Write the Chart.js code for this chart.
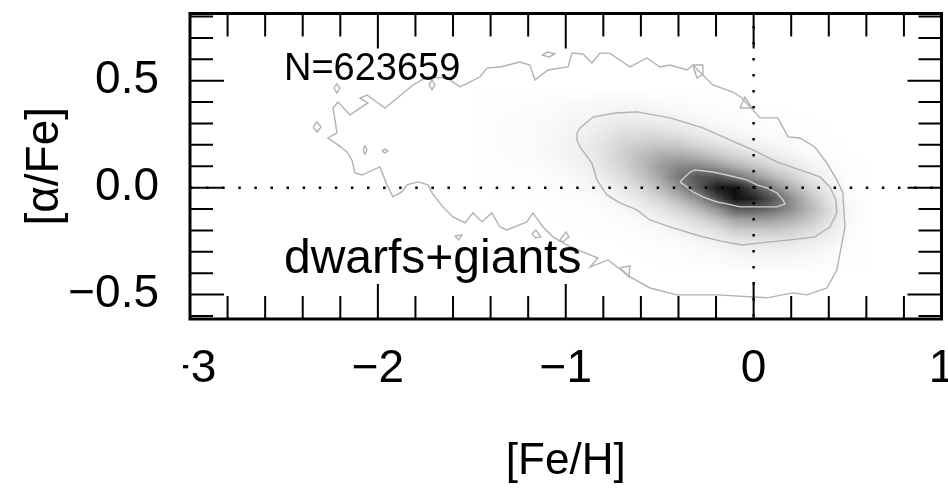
<!DOCTYPE html>
<html>
<head>
<meta charset="utf-8">
<script src="https://cdn.jsdelivr.net/npm/chart.js@4.4.1/dist/chart.umd.min.js"></script>
<style>
  html, body { margin: 0; padding: 0; background: #ffffff; }
  canvas { display: block; }
</style>
</head>
<body>
<canvas id="chart" width="948" height="488"></canvas>
<script>
// ---- axes -------------------------------------------------------------
const xTickValues = [-3, -2, -1, 0, 1];
const xTickLabels = ['\u22123', '\u22122', '\u22121', '0', '1'];
const yTickValues = [-0.5, 0, 0.5];
const yTickLabels = ['\u22120.5', '0.0', '0.5'];
const xRange = [-3, 1];
const yRange = [-0.614, 0.814];

// ---- star-density map: [Fe/H] column centres, [alpha/Fe] row centres --
const feGrid = [-1.5, -1.4, -1.3, -1.2, -1.1, -1.0, -0.9, -0.8, -0.7, -0.6, -0.5, -0.4,
                -0.3, -0.2, -0.1, 0.0, 0.1, 0.2, 0.3, 0.4, 0.5, 0.6];
const alphaGrid = [0.45, 0.40, 0.35, 0.30, 0.25, 0.20, 0.15, 0.10, 0.05, 0.00,
                   -0.05, -0.10, -0.15, -0.20, -0.25, -0.30, -0.35, -0.40];
// darkness 0 (white) .. 255 (black), one row per alphaGrid entry
const density = [
  [0,0,0, 0,0,0,0,0,0,0,0,0,0,0,0,0,0,0,0,0,0, 0],
  [0,1,1, 2,3,4,5,6,7,6,4,3,2,1,1,0,0,0,0,0,0, 0],
  [0,1,2, 3,4,6,8,10,13,13,10,7,5,3,2,1,1,0,0,0,0, 0],
  [0,2,3, 4,5,8,12,17,22,23,20,16,11,6,4,2,2,1,0,0,0, 0],
  [0,2,3, 4,6,10,15,23,33,36,36,30,22,15,10,6,4,2,1,0,0, 0],
  [0,2,3, 4,7,11,18,28,43,52,58,53,42,30,21,14,9,5,2,1,0, 0],
  [0,2,2, 3,6,10,16,29,48,65,82,85,75,58,42,30,20,12,5,2,0, 0],
  [0,1,2, 2,5,8,14,25,43,67,97,120,123,105,80,60,40,25,12,4,1, 0],
  [0,1,1, 1,3,5,10,18,33,56,90,135,169,175,142,107,73,47,23,9,1, 0],
  [0,0,1, 1,2,3,6,12,22,40,67,108,161,230,240,176,124,78,41,16,3, 0],
  [0,0,0, 0,1,2,3,6,13,25,44,72,112,175,240,220,167,110,61,26,5, 0],
  [0,0,0, 0,0,1,1,3,7,14,26,43,67,105,158,163,143,110,72,34,7, 0],
  [0,0,0, 0,0,0,1,2,3,7,13,23,38,58,90,96,91,78,54,29,7, 0],
  [0,0,0, 0,0,0,0,1,1,3,6,12,20,30,48,52,52,47,34,20,5, 0],
  [0,0,0, 0,0,0,0,0,0,1,3,5,9,15,24,26,27,25,18,12,3, 0],
  [0,0,0, 0,0,0,0,0,0,0,1,2,4,6,11,12,12,12,9,6,1, 0],
  [0,0,0, 0,0,0,0,0,0,0,0,1,2,3,5,5,5,5,4,3,1, 0],
  [0,0,0, 0,0,0,0,0,0,0,0,0,0,0,0,0,0,0,0,0,0, 0]
];

// ---- density contours ([Fe/H], [alpha/Fe]) ----------------------------
const innerContour = [
  [-0.392,0.027],[-0.339,0.073],[-0.312,0.083],[-0.217,0.073],[-0.142,0.059],
  [-0.036,0.036],[0.018,0.013],[0.071,-0.001],[0.124,-0.025],[0.156,-0.057],
  [0.167,-0.076],[0.124,-0.090],[0.050,-0.090],[-0.073,-0.090],[-0.142,-0.076],
  [-0.195,-0.067],[-0.270,-0.043],[-0.323,-0.020],[-0.355,0.003],[-0.392,0.027]
];
const middleContour = [
  [-0.940,0.256],[-0.924,0.279],[-0.855,0.330],[-0.738,0.349],[-0.621,0.354],
  [-0.445,0.326],[-0.270,0.279],[-0.126,0.223],[-0.004,0.176],[0.124,0.120],
  [0.246,0.083],[0.353,0.050],[0.406,0.003],[0.438,-0.057],[0.443,-0.118],
  [0.406,-0.184],[0.326,-0.230],[0.193,-0.244],[0.034,-0.258],[-0.062,-0.268],
  [-0.179,-0.249],[-0.286,-0.226],[-0.430,-0.188],[-0.552,-0.151],[-0.621,-0.104],
  [-0.712,-0.071],[-0.781,-0.034],[-0.834,0.036],[-0.861,0.115],[-0.924,0.190],
  [-0.940,0.223],[-0.940,0.256]
];
const outerContour = [
  [-2.138,0.129],[-2.164,0.167],[-2.212,0.200],[-2.266,0.232],[-2.218,0.256],
  [-2.228,0.316],[-2.239,0.372],[-2.212,0.400],[-2.148,0.340],[-2.053,0.396],
  [-2.095,0.419],[-2.058,0.433],[-1.962,0.372],[-1.813,0.480],[-1.739,0.517],
  [-1.632,0.513],[-1.563,0.471],[-1.457,0.517],[-1.419,0.559],[-1.350,0.564],
  [-1.244,0.587],[-1.191,0.573],[-1.164,0.503],[-1.095,0.550],[-0.988,0.564],
  [-0.967,0.629],[-0.908,0.625],[-0.861,0.583],[-0.818,0.629],[-0.765,0.629],
  [-0.658,0.564],[-0.568,0.606],[-0.499,0.564],[-0.445,0.573],[-0.355,0.550],
  [-0.323,0.573],[-0.270,0.527],[-0.217,0.480],[-0.110,0.447],[-0.062,0.419],
  [-0.004,0.363],[0.034,0.326],[0.129,0.326],[0.183,0.237],[0.246,0.232],
  [0.326,0.190],[0.390,0.115],[0.443,0.036],[0.475,-0.025],[0.486,-0.184],
  [0.443,-0.385],[0.390,-0.469],[0.284,-0.501],[0.209,-0.492],[0.071,-0.515],
  [-0.195,-0.501],[-0.408,-0.501],[-0.552,-0.469],[-0.658,-0.417],[-0.775,-0.338],
  [-0.871,-0.371],[-0.829,-0.329],[-0.962,-0.282],[-1.015,-0.258],[-1.068,-0.230],
  [-1.121,-0.184],[-1.175,-0.118],[-1.207,-0.160],[-1.313,-0.198],[-1.350,-0.184],
  [-1.393,-0.118],[-1.446,-0.160],[-1.494,-0.118],[-1.536,-0.165],[-1.600,-0.137],
  [-1.654,-0.090],[-1.712,-0.025],[-1.733,0.013],[-1.787,0.027],[-1.845,0.013],
  [-1.872,-0.020],[-1.920,-0.043],[-1.952,0.013],[-1.989,0.097],[-2.085,0.059],
  [-2.122,0.069],[-2.138,0.129]
];
// small detached loops of the outer contour level
const outerIslands = [
  [[-2.345,0.284],[-2.324,0.307],[-2.303,0.284],[-2.324,0.260],[-2.345,0.284]],
  [[-2.234,0.466],[-2.218,0.485],[-2.202,0.466],[-2.218,0.443],[-2.234,0.466]],
  [[-1.728,0.480],[-1.712,0.503],[-1.696,0.480],[-1.712,0.457],[-1.728,0.480]],
  [[-1.127,0.620],[-1.095,0.634],[-1.058,0.625],[-1.089,0.611],[-1.127,0.620]],
  [[-0.323,0.573],[-0.270,0.573],[-0.270,0.527],[-0.302,0.513],[-0.323,0.573]],
  [[-0.073,0.372],[-0.046,0.424],[-0.009,0.372],[-0.073,0.372]],
  [[-2.079,0.176],[-2.069,0.195],[-2.058,0.176],[-2.069,0.157],[-2.079,0.176]],
  [[-1.978,0.171],[-1.962,0.181],[-1.946,0.171],[-1.962,0.162],[-1.978,0.171]],
  [[-1.590,-0.226],[-1.553,-0.221],[-1.569,-0.244],[-1.590,-0.226]],
  [[-1.180,-0.216],[-1.159,-0.198],[-1.132,-0.230],[-1.159,-0.235],[-1.180,-0.216]],
  [[-1.031,-0.244],[-0.999,-0.207],[-0.983,-0.230],[-1.015,-0.254],[-1.031,-0.244]],
  [[-0.712,-0.375],[-0.658,-0.366],[-0.664,-0.417],[-0.712,-0.375]]
];

const sampleSize = 623659;
const panelLabel = 'dwarfs+giants';

// ---- styling ----------------------------------------------------------
const FONT = "'Liberation Sans', Arial, Helvetica, sans-serif";
const toXY = pts => pts.map(p => ({ x: p[0], y: p[1] }));

function contourSet(pts, color) {
  return {
    data: toXY(pts), showLine: true, borderColor: color, borderWidth: 1.4,
    pointRadius: 0, fill: false, tension: 0
  };
}

const datasets = [
  { // [alpha/Fe] = 0 reference
    data: [{ x: xRange[0], y: 0 }, { x: xRange[1], y: 0 }],
    showLine: true, borderColor: '#000', borderWidth: 2.5,
    borderDash: [2.5, 13.59], pointRadius: 0
  },
  { // [Fe/H] = 0 reference
    data: [{ x: 0, y: yRange[1] }, { x: 0, y: yRange[0] }],
    showLine: true, borderColor: '#000', borderWidth: 2.5,
    borderDash: [2.5, 13.5], borderDashOffset: 3.45, pointRadius: 0
  },
  contourSet(innerContour, '#cfcfcf'),
  contourSet(middleContour, '#b2b2b2'),
  contourSet(outerContour, '#b2b2b2'),
  ...outerIslands.map(isl => contourSet(isl, '#b2b2b2'))
];

// grey-scale density image, placed through the axis scales
const densityLayer = {
  id: 'densityLayer',
  beforeDatasetsDraw(chart) {
    const { ctx, chartArea, scales: { x, y } } = chart;
    const nx = feGrid.length, ny = alphaGrid.length;
    const off = document.createElement('canvas');
    off.width = nx; off.height = ny;
    const octx = off.getContext('2d');
    const img = octx.createImageData(nx, ny);
    for (let j = 0; j < ny; j++) {
      for (let i = 0; i < nx; i++) {
        const g = 255 - density[j][i];
        const k = (j * nx + i) * 4;
        img.data[k] = g; img.data[k + 1] = g; img.data[k + 2] = g; img.data[k + 3] = 255;
      }
    }
    octx.putImageData(img, 0, 0);
    const hx = (feGrid[1] - feGrid[0]) / 2;
    const hy = (alphaGrid[0] - alphaGrid[1]) / 2;
    const left = x.getPixelForValue(feGrid[0] - hx);
    const right = x.getPixelForValue(feGrid[nx - 1] + hx);
    const top = y.getPixelForValue(alphaGrid[0] + hy);
    const bottom = y.getPixelForValue(alphaGrid[ny - 1] - hy);
    ctx.save();
    ctx.beginPath();
    ctx.rect(chartArea.left, chartArea.top, chartArea.width, chartArea.height);
    ctx.clip();
    ctx.imageSmoothingEnabled = true;
    ctx.imageSmoothingQuality = 'low';
    ctx.drawImage(off, left, top, right - left, bottom - top);
    ctx.restore();
  }
};

// the leftmost x label is partly hidden at the panel's left edge
const labelCut = {
  id: 'labelCut',
  beforeDraw(chart) {
    const { ctx, width, height } = chart;
    ctx.save();
    ctx.beginPath();
    ctx.rect(0, 0, width, height);
    ctx.rect(0, 330, 183, 90);
    ctx.clip('evenodd');
  },
  afterDraw(chart) {
    chart.ctx.restore();
  }
};

// boxed frame with inward ticks on all four sides, plus in-panel labels
const frameAndText = {
  id: 'frameAndText',
  afterDraw(chart) {
    const { ctx, chartArea: a, scales: { x, y } } = chart;
    ctx.save();
    ctx.strokeStyle = '#000';
    ctx.lineWidth = 2;
    ctx.beginPath();
    for (let k = 0; k <= 20; k++) {
      const v = xRange[0] + k * 0.2;
      const major = k % 5 === 0;
      const len = major ? 35 : 23;
      const px = x.getPixelForValue(v);
      ctx.moveTo(px, a.bottom); ctx.lineTo(px, a.bottom - len);
      ctx.moveTo(px, a.top); ctx.lineTo(px, a.top + len);
    }
    for (let k = -6; k <= 8; k++) {
      const v = k / 10;
      const major = k % 5 === 0;
      const len = major ? 34 : 23;
      const py = y.getPixelForValue(v);
      ctx.moveTo(a.left, py); ctx.lineTo(a.left + len, py);
      ctx.moveTo(a.right, py); ctx.lineTo(a.right - len, py);
    }
    ctx.stroke();
    ctx.lineWidth = 3;
    ctx.strokeRect(a.left, a.top, a.right - a.left, a.bottom - a.top);

    ctx.fillStyle = '#000';
    ctx.textBaseline = 'alphabetic';
    ctx.textAlign = 'left';
    ctx.font = '38px ' + FONT;
    ctx.fillText('N=' + sampleSize, x.getPixelForValue(-2.50), y.getPixelForValue(0.503));
    ctx.font = '48px ' + FONT;
    ctx.fillText(panelLabel, x.getPixelForValue(-2.50), y.getPixelForValue(-0.400));
    ctx.restore();
  }
};

new Chart(document.getElementById('chart'), {
  type: 'scatter',
  data: { datasets },
  plugins: [labelCut, densityLayer, frameAndText],
  options: {
    responsive: false,
    animation: false,
    events: [],
    layout: { padding: { top: 13.5, right: 6.5, left: 0, bottom: 0 } },
    plugins: { legend: { display: false }, tooltip: { enabled: false } },
    scales: {
      x: {
        type: 'linear', position: 'bottom', min: xRange[0], max: xRange[1],
        afterBuildTicks: s => { s.ticks = xTickValues.map(v => ({ value: v })); },
        afterFit: s => { s.height = 169; s.paddingLeft = 0; s.paddingRight = 0; },
        grid: { display: false, drawTicks: false },
        border: { display: false },
        ticks: {
          color: '#000', font: { size: 46, family: FONT }, padding: 23,
          maxRotation: 0, minRotation: 0, autoSkip: false,
          callback: (v, i) => xTickLabels[i]
        },
        title: {
          display: true, text: '[Fe/H]', color: '#000',
          font: { size: 44, family: FONT, lineHeight: 1 },
          padding: { top: 0, bottom: 4 }
        }
      },
      y: {
        type: 'linear', position: 'left', min: yRange[0], max: yRange[1],
        afterBuildTicks: s => { s.ticks = yTickValues.map(v => ({ value: v })); },
        afterFit: s => { s.width = 190; s.paddingTop = 0; s.paddingBottom = 0; },
        grid: { display: false, drawTicks: false },
        border: { display: false },
        ticks: {
          color: '#000', font: { size: 46, family: FONT }, padding: 31,
          autoSkip: false, callback: (v, i) => yTickLabels[i]
        },
        title: {
          display: true, text: '[\u03b1/Fe]', color: '#000',
          font: { size: 46, family: FONT, lineHeight: 1 },
          padding: { top: 22, bottom: 0 }
        }
      }
    }
  }
});
</script>
</body>
</html>
